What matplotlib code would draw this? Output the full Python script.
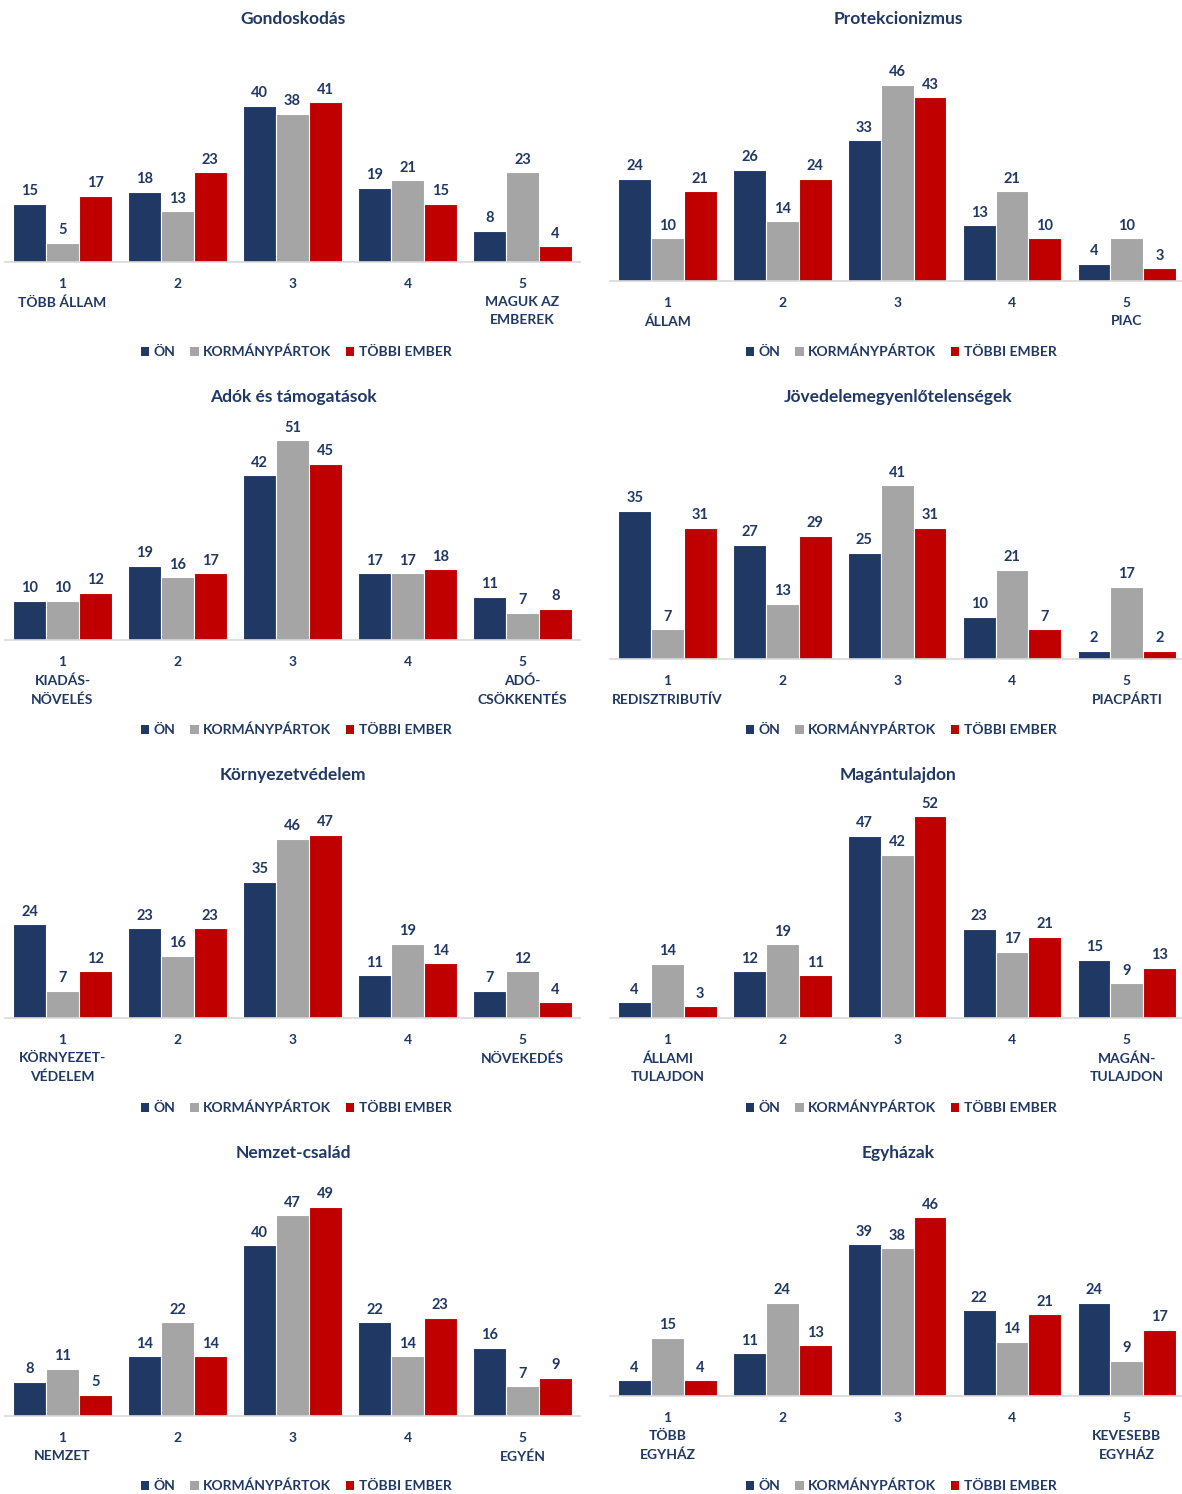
import matplotlib
matplotlib.use("Agg")
import matplotlib.pyplot as plt
from matplotlib.patches import Patch

plt.rcParams['font.family'] = ['Lato', 'DejaVu Sans']
plt.rcParams['font.weight'] = 'bold'

NAVY = '#203864'
GREY = '#A5A5A5'
RED = '#C00000'
TXT = '#203864'

series_names = ['ÖN', 'KORMÁNYPÁRTOK', 'TÖBBI EMBER']

titles = ['Gondoskodás', 'Protekcionizmus', 'Adók és támogatások',
          'Jövedelemegyenlőtelenségek', 'Környezetvédelem', 'Magántulajdon',
          'Nemzet-család', 'Egyházak']

tick_labels = [
    ['1\nTÖBB ÁLLAM', '2', '3', '4', '5\nMAGUK AZ\nEMBEREK'],
    ['1\nÁLLAM', '2', '3', '4', '5\nPIAC'],
    ['1\nKIADÁS-\nNÖVELÉS', '2', '3', '4', '5\nADÓ-\nCSÖKKENTÉS'],
    ['1\nREDISZTRIBUTÍV', '2', '3', '4', '5\nPIACPÁRTI'],
    ['1\nKÖRNYEZET-\nVÉDELEM', '2', '3', '4', '5\nNÖVEKEDÉS'],
    ['1\nÁLLAMI\nTULAJDON', '2', '3', '4', '5\nMAGÁN-\nTULAJDON'],
    ['1\nNEMZET', '2', '3', '4', '5\nEGYÉN'],
    ['1\nTÖBB\nEGYHÁZ', '2', '3', '4', '5\nKEVESEBB\nEGYHÁZ'],
]

on_vals = [
    [15, 18, 40, 19, 8],
    [24, 26, 33, 13, 4],
    [10, 19, 42, 17, 11],
    [35, 27, 25, 10, 2],
    [24, 23, 35, 11, 7],
    [4, 12, 47, 23, 15],
    [8, 14, 40, 22, 16],
    [4, 11, 39, 22, 24],
]
kp_vals = [
    [5, 13, 38, 21, 23],
    [10, 14, 46, 21, 10],
    [10, 16, 51, 17, 7],
    [7, 13, 41, 21, 17],
    [7, 16, 46, 19, 12],
    [14, 19, 42, 17, 9],
    [11, 22, 47, 14, 7],
    [15, 24, 38, 14, 9],
]
te_vals = [
    [17, 23, 41, 15, 4],
    [21, 24, 43, 10, 3],
    [12, 17, 45, 18, 8],
    [31, 29, 31, 7, 2],
    [12, 23, 47, 14, 4],
    [3, 11, 52, 21, 13],
    [5, 14, 49, 23, 9],
    [4, 13, 46, 21, 17],
]

# layout (pixels)
W, H = 1182, 1494
scales = [3.9, 4.27, 3.92, 4.24, 3.9, 3.88, 4.27, 3.89]
baselines = [262, 281, 640, 659, 1018, 1018, 1416, 1396]
row_h = 378
title_y0 = 19
legend_y0 = 352
col_left = [5, 610]
col_width = [575, 572]
col_center = [293, 898]
legend_center = [296, 901]

fig = plt.figure(figsize=(W / 100, H / 100), dpi=100)

bw = 1 / 3.5
for i in range(8):
    r, c = divmod(i, 2)
    base = baselines[i]
    top = title_y0 + r * row_h + 30
    sc = scales[i]
    ymax = (base - top) / sc
    ax = fig.add_axes([col_left[c] / W, 1 - base / H, col_width[c] / W, (base - top) / H])
    x = list(range(5))
    for k, (vals, col) in enumerate(zip([on_vals[i], kp_vals[i], te_vals[i]], [NAVY, GREY, RED])):
        cont = ax.bar([xi + (k - 1) * bw for xi in x], vals, width=bw, color=col,
                      edgecolor='white', linewidth=0.8, label=series_names[k])
        ax.bar_label(cont, padding=4, fontsize=10.5, fontweight='bold', color=TXT)
    ax.set_xlim(-0.5, 4.5 if c == 0 else 4.48)
    ax.set_ylim(0, ymax)
    for s in ['top', 'left', 'right']:
        ax.spines[s].set_visible(False)
    ax.spines['bottom'].set_color('#D9D9D9')
    ax.spines['bottom'].set_linewidth(1.2)
    ax.set_yticks([])
    ax.set_xticks(x)
    ax.set_xticklabels(tick_labels[i], fontsize=10, fontweight='bold', color=TXT,
                       linespacing=1.62)
    ax.tick_params(axis='x', length=0, pad=11.5)
    fig.text(col_center[c] / W, 1 - (title_y0 + r * row_h) / H, titles[i],
             ha='center', va='center', fontsize=12.5, fontweight='bold', color=TXT)
    handles = [Patch(facecolor=col) for col in [NAVY, GREY, RED]]
    fig.legend(handles, series_names, loc='center',
               bbox_to_anchor=(legend_center[c] / W, 1 - (legend_y0 + r * row_h) / H),
               ncol=3, frameon=False, handlelength=0.6, handleheight=0.6,
               handletextpad=0.3, columnspacing=1.1, labelcolor=TXT,
               prop={'weight': 'bold', 'size': 10})

fig.savefig('out.png', dpi=100, facecolor='white')
